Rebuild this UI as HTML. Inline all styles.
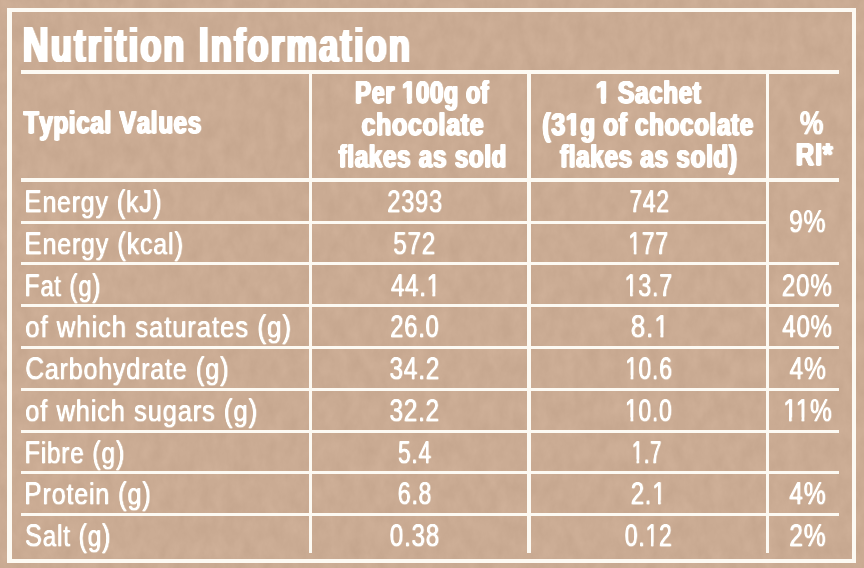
<!DOCTYPE html>
<html><head><meta charset="utf-8"><title>Nutrition Information</title>
<style>html,body{margin:0;padding:0;background:#caab93;}svg{display:block;}
text{font-family:"Liberation Sans",Arial,sans-serif;fill:#fdfaf3;}</style></head>
<body><svg width="864" height="568" viewBox="0 0 864 568">
<defs><filter id="tex" x="0" y="0" width="864" height="568" filterUnits="userSpaceOnUse" color-interpolation-filters="sRGB">
<feTurbulence type="fractalNoise" baseFrequency="0.08 0.05" numOctaves="4" seed="5" result="n"/>
<feColorMatrix in="n" type="matrix" values="1 0 0 0 0  1 0 0 0 0  1 0 0 0 0  0 0 0 0 1" result="g"/>
<feFlood flood-color="#caab93" result="c"/>
<feComposite in="c" in2="g" operator="arithmetic" k1="0" k2="1" k3="0.05" k4="-0.025"/>
</filter><mask id="mH" maskUnits="userSpaceOnUse" x="0" y="0" width="864" height="568"><rect width="864" height="568" fill="#fff"/><g fill="#000"><rect x="402.90" y="98.33" width="5.02" height="5.92"/><rect x="411.21" y="98.33" width="4.72" height="5.92"/><rect x="596.63" y="98.33" width="5.23" height="5.92"/><rect x="605.29" y="98.33" width="4.91" height="5.92"/><rect x="566.52" y="130.33" width="5.24" height="5.92"/><rect x="575.19" y="130.33" width="4.92" height="5.92"/></g></mask><mask id="mD" maskUnits="userSpaceOnUse" x="0" y="0" width="864" height="568"><rect width="864" height="568" fill="#fff"/><g fill="#000"><rect x="427.30" y="292.29" width="5.15" height="4.94"/><rect x="434.58" y="292.29" width="4.97" height="4.94"/><rect x="628.87" y="250.29" width="4.94" height="4.94"/><rect x="635.85" y="250.29" width="4.76" height="4.94"/><rect x="625.14" y="292.29" width="4.99" height="4.94"/><rect x="632.19" y="292.29" width="4.81" height="4.94"/><rect x="654.88" y="333.29" width="5.59" height="4.94"/><rect x="662.78" y="333.29" width="5.39" height="4.94"/><rect x="625.76" y="375.29" width="4.90" height="4.94"/><rect x="632.69" y="375.29" width="4.72" height="4.94"/><rect x="625.67" y="417.29" width="4.90" height="4.94"/><rect x="632.60" y="417.29" width="4.72" height="4.94"/><rect x="632.19" y="459.29" width="4.39" height="4.94"/><rect x="638.39" y="459.29" width="4.23" height="4.94"/><rect x="652.92" y="500.29" width="5.14" height="4.94"/><rect x="660.19" y="500.29" width="4.95" height="4.94"/><rect x="646.02" y="542.29" width="4.92" height="4.94"/><rect x="652.97" y="542.29" width="4.74" height="4.94"/><rect x="783.79" y="417.29" width="5.24" height="4.94"/><rect x="791.18" y="417.29" width="5.04" height="4.94"/><rect x="796.32" y="417.29" width="5.24" height="4.94"/><rect x="803.72" y="417.29" width="5.04" height="4.94"/></g></mask><filter id="fT" x="0" y="0" width="864" height="568" filterUnits="userSpaceOnUse"><feConvolveMatrix order="4 1" kernelMatrix="1 1 1 0.6" divisor="1" edgeMode="none"/></filter><filter id="fH" x="0" y="0" width="864" height="568" filterUnits="userSpaceOnUse"><feConvolveMatrix order="3 2" kernelMatrix="1 1 0.5 0.5 0.5 0.25" divisor="1" edgeMode="none"/></filter><filter id="fD" x="0" y="0" width="864" height="568" filterUnits="userSpaceOnUse"><feConvolveMatrix order="2 2" kernelMatrix="1 0.45 0.35 0.1575" divisor="1" edgeMode="none"/></filter></defs>
<rect width="864" height="568" fill="#caab93" filter="url(#tex)"/>
<g fill="#fdfaf3">
<rect x="7" y="8" width="849" height="4"/>
<rect x="7" y="8" width="5" height="555"/>
<rect x="852" y="8" width="4" height="555"/>
<rect x="7" y="559" width="849" height="4"/>
<rect x="21" y="70" width="818" height="4"/>
<rect x="21" y="178" width="818" height="4"/>
<rect x="21" y="221" width="745" height="3"/>
<rect x="21" y="262" width="818" height="3"/>
<rect x="21" y="304" width="818" height="3"/>
<rect x="21" y="346" width="818" height="3"/>
<rect x="21" y="388" width="818" height="3"/>
<rect x="21" y="430" width="818" height="3"/>
<rect x="21" y="471" width="818" height="3"/>
<rect x="21" y="513" width="818" height="3"/>
<rect x="309" y="74" width="3" height="479"/>
<rect x="527" y="74" width="4" height="479"/>
<rect x="766" y="74" width="3" height="479"/>
</g>
<g filter="url(#fT)" font-size="50.4" font-weight="700" letter-spacing="3.0"><g>
<text id="title" transform="translate(22.51,62.00) scale(0.7122,1)">N<tspan font-size="48.38">utrition</tspan> I<tspan font-size="48.38">nformation</tspan></text>
</g></g>
<g filter="url(#fH)" font-size="33" font-weight="700" letter-spacing="0.8"><g mask="url(#mH)">
<text id="h_tv" transform="translate(23.66,133.00) scale(0.7816,1)" font-size="32">T<tspan font-size="31.04">ypical</tspan> V<tspan font-size="31.04">alues</tspan></text>
<text id="h2a" transform="translate(355.32,103.00) scale(0.7492,1)" font-size="32">P<tspan font-size="31.04">er</tspan> 100<tspan font-size="31.04">g</tspan> <tspan font-size="31.04">of</tspan></text>
<text id="h2b" transform="translate(361.75,135.00) scale(0.8081,1)" font-size="32"><tspan font-size="31.04">chocolate</tspan></text>
<text id="h2c" transform="translate(338.87,167.00) scale(0.7823,1)" font-size="32"><tspan font-size="31.04">flakes</tspan> <tspan font-size="31.04">as</tspan> <tspan font-size="31.04">sold</tspan></text>
<text id="h3a" transform="translate(596.03,103.00) scale(0.7802,1)" font-size="32">1 S<tspan font-size="31.04">achet</tspan></text>
<text id="h3b" transform="translate(542.42,135.00) scale(0.7819,1)" font-size="32">(31<tspan font-size="31.04">g</tspan> <tspan font-size="31.04">of</tspan> <tspan font-size="31.04">chocolate</tspan></text>
<text id="h3c" transform="translate(560.23,167.00) scale(0.7842,1)" font-size="32"><tspan font-size="31.04">flakes</tspan> <tspan font-size="31.04">as</tspan> <tspan font-size="31.04">sold</tspan>)</text>
<text id="h4b" transform="translate(796.11,165.00) scale(0.7977,1)" font-size="32">RI*</text>
</g></g>
<g filter="url(#fD)" font-size="31.5" font-weight="400" letter-spacing="1.0"><g mask="url(#mD)">
<text id="h4a" transform="translate(799.60,134.00) scale(0.8056,1)" font-size="33" font-weight="700">%</text>
<text id="l0" transform="translate(24.12,212.00) scale(0.8262,1)" font-size="31.3">E<tspan font-size="30.05">nergy</tspan> (<tspan font-size="30.05">k</tspan>J)</text>
<text id="l1" transform="translate(24.09,254.00) scale(0.8313,1)" font-size="31.3">E<tspan font-size="30.05">nergy</tspan> (<tspan font-size="30.05">kcal</tspan>)</text>
<text id="l2" transform="translate(24.26,296.00) scale(0.7889,1)" font-size="31.3">F<tspan font-size="30.05">at</tspan> (<tspan font-size="30.05">g</tspan>)</text>
<text id="l3" transform="translate(25.08,337.00) scale(0.8574,1)" font-size="31.3"><tspan font-size="30.05">of</tspan> <tspan font-size="30.05">which</tspan> <tspan font-size="30.05">saturates</tspan> (<tspan font-size="30.05">g</tspan>)</text>
<text id="l4" transform="translate(24.88,379.00) scale(0.8335,1)" font-size="31.3">C<tspan font-size="30.05">arbohydrate</tspan> (<tspan font-size="30.05">g</tspan>)</text>
<text id="l5" transform="translate(25.09,421.00) scale(0.8480,1)" font-size="31.3"><tspan font-size="30.05">of</tspan> <tspan font-size="30.05">which</tspan> <tspan font-size="30.05">sugars</tspan> (<tspan font-size="30.05">g</tspan>)</text>
<text id="l6" transform="translate(24.13,463.00) scale(0.8098,1)" font-size="31.3">F<tspan font-size="30.05">ibre</tspan> (<tspan font-size="30.05">g</tspan>)</text>
<text id="l7" transform="translate(24.11,504.00) scale(0.8314,1)" font-size="31.3">P<tspan font-size="30.05">rotein</tspan> (<tspan font-size="30.05">g</tspan>)</text>
<text id="l8" transform="translate(24.74,546.00) scale(0.8070,1)" font-size="31.3">S<tspan font-size="30.05">alt</tspan> (<tspan font-size="30.05">g</tspan>)</text>
<text id="a0" transform="translate(387.07,212.00) scale(0.7536,1)" font-size="31.3">2393</text>
<text id="a1" transform="translate(393.06,254.00) scale(0.7699,1)" font-size="31.3">572</text>
<text id="a2" transform="translate(390.70,296.00) scale(0.7681,1)" font-size="31.3">44.1</text>
<text id="a3" transform="translate(390.05,337.00) scale(0.7585,1)" font-size="31.3">26.0</text>
<text id="a4" transform="translate(389.32,379.00) scale(0.7765,1)" font-size="31.3">34.2</text>
<text id="a5" transform="translate(389.23,421.00) scale(0.7772,1)" font-size="31.3">32.2</text>
<text id="a6" transform="translate(397.74,463.00) scale(0.7259,1)" font-size="31.3">5.4</text>
<text id="a7" transform="translate(397.54,504.00) scale(0.7385,1)" font-size="31.3">6.8</text>
<text id="a8" transform="translate(389.42,546.00) scale(0.7739,1)" font-size="31.3">0.38</text>
<text id="b0" transform="translate(629.13,212.00) scale(0.7299,1)" font-size="31.3">742</text>
<text id="b1" transform="translate(628.02,254.00) scale(0.7366,1)" font-size="31.3">177</text>
<text id="b2" transform="translate(624.28,296.00) scale(0.7442,1)" font-size="31.3">13.7</text>
<text id="b3" transform="translate(630.51,337.00) scale(0.8334,1)" font-size="31.3">8.1</text>
<text id="b4" transform="translate(624.91,379.00) scale(0.7307,1)" font-size="31.3">10.6</text>
<text id="b5" transform="translate(624.82,421.00) scale(0.7309,1)" font-size="31.3">10.0</text>
<text id="b6" transform="translate(631.43,463.00) scale(0.6541,1)" font-size="31.3">1.7</text>
<text id="b7" transform="translate(630.51,504.00) scale(0.7664,1)" font-size="31.3">2.1</text>
<text id="b8" transform="translate(624.57,546.00) scale(0.7335,1)" font-size="31.3">0.12</text>
<text id="c0" transform="translate(788.63,232.00) scale(0.7902,1)" font-size="31.3">9%</text>
<text id="c2" transform="translate(781.54,296.00) scale(0.7741,1)" font-size="31.3">20%</text>
<text id="c3" transform="translate(782.05,337.00) scale(0.7653,1)" font-size="31.3">40%</text>
<text id="c4" transform="translate(789.27,379.00) scale(0.7854,1)" font-size="31.3">4%</text>
<text id="c5" transform="translate(782.88,421.00) scale(0.7804,1)" font-size="31.3">11%</text>
<text id="c7" transform="translate(788.96,504.00) scale(0.7871,1)" font-size="31.3">4%</text>
<text id="c8" transform="translate(789.01,546.00) scale(0.7853,1)" font-size="31.3">2%</text>
</g></g>
</svg></body></html>
